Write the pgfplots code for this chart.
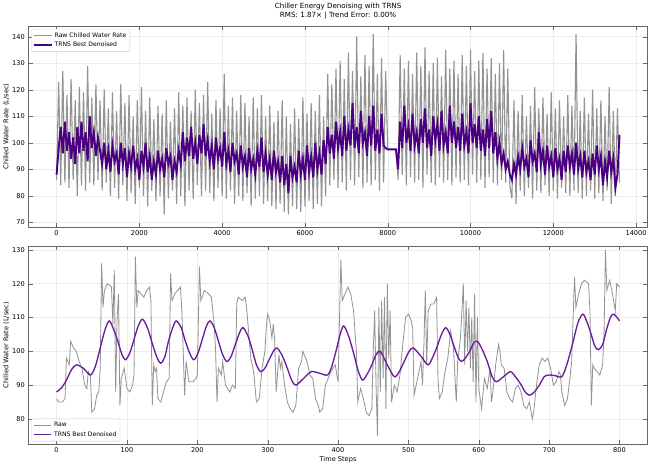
\documentclass[border=0pt]{standalone}
\usepackage{pgfplots}
\pgfplotsset{compat=1.18}
\usepackage{pgfplotstable}
\usepackage{fontspec}
\setmainfont{DejaVu Sans}
\definecolor{indigo}{RGB}{75,0,130}
\definecolor{purp}{RGB}{106,27,154}
\pgfplotstableread{
y
86
123
84
127
85
118
83
124
86
116
80
121
84
119
82
129
85
117
84
122
86
116
82
120
85
113
80
119
83
112
79
122
84
115
78
118
81
110
77
116
83
121
80
112
76
117
82
109
78
114
80
111
73
116
79
108
82
113
77
119
80
114
76
117
82
112
79
120
84
115
80
118
82
123
81
111
78
116
83
113
80
126
79
114
82
117
77
112
80
118
78
115
81
110
76
117
79
113
80
118
77
110
78
114
76
108
75
112
77
116
74
110
73
107
76
113
75
109
74
117
76
111
78
115
75
112
77
118
76
110
80
126
84
122
86
128
83
131
85
124
82
134
86
127
84
140
87
125
83
133
85
129
84
141
86
126
82
132
85
127
97.5
97.5
97.5
97.5
97.5
86
133
88
128
84
131
87
126
85
134
86
129
83
136
88
127
85
130
84
132
87
125
85
135
86
128
84
131
87
126
85
133
86
129
84
135
88
127
85
131
86
134
83
128
87
132
85
126
84
130
86
135
85
128
84
79
116
77
112
82
118
80
110
83
114
79
121
82
113
81
117
84
111
80
119
82
113
79
116
83
110
81
118
80
114
82
141
81
112
79
117
80
111
82
120
79
113
81
116
78
110
82
121
77
112
80
113
85
}\rawtop
\pgfplotstableread{
y
88
98
106
96
108
97
104
94
102
92
106
96
108
97
104
93
110
98
104
95
102
97
92
100
90
97
89
99
93
96
88
100
92
98
87
96
91
99
90
94
86
97
91
100
89
95
86
93
88
97
90
94
87
98
92
95
86
93
89
97
92
104
93
102
95
106
94
100
92
103
96
107
95
101
93
99
90
102
94
98
91
104
92
97
89
100
93
96
88
99
91
95
87
98
90
94
88
97
91
102
89
96
88
94
86
97
89
93
85
95
84
92
81
95
87
91
85
97
88
94
86
99
89
95
87
100
90
96
88
101
92
106
96
103
94
108
98
104
95
110
97
105
99
115
98
106
96
112
100
104
95
110
99
114
97
105
96
111
99
98
97.5
97.5
97.5
97.5
97.5
90
108
98
114
100
106
97
111
99
104
96
109
100
113
98
105
95
110
101
107
97
112
99
104
96
114
100
108
98
106
97
111
99
104
96
115
100
107
98
110
97
105
95
109
98
112
96
104
94
100
92
96
90
93
88
86
92
88
95
90
98
91
94
87
101
93
96
89
104
92
97
88
99
91
95
87
98
90
94
86
97
89
99
91
96
88
100
90
95
87
97
89
93
86
96
88
99
90
95
84
93
87
97
89
94
83
88
103
}\dentop
\pgfplotsset{
  myax/.style={scale only axis, width=608pt,
    grid=major, grid style={gray!15, line width=0.4pt},
    axis line style={gray!80!black},
    tick style={gray!80!black},
    ticklabel style={font=\fontsize{6.5}{7}\selectfont},
    label style={font=\fontsize{6.5}{7}\selectfont},
    /pgf/number format/assume math mode=true,
    /pgf/number format/1000 sep={},
    scaled ticks=false,
    legend cell align=left,
    legend style={at={(0.005,0.985)}, anchor=north west, font=\fontsize{6}{7}\selectfont,
      draw=gray!40, rounded corners=1pt, inner sep=1.5pt, row sep=-1pt},
  }
}
\begin{document}
\begin{tikzpicture}
\begin{axis}[myax, at={(0,213pt)}, height=198pt,
  xmin=-680, xmax=14280, ymin=68.1, ymax=144.1,
  xtick={0,2000,...,14000}, ytick={70,80,...,140},
  ylabel={Chilled Water Rate (L/sec)}, ylabel style={yshift=-4pt},
  title style={font=\fontsize{7}{8.5}\selectfont, align=center, yshift=-3pt},
  title={Chiller Energy Denoising with TRNS\\RMS: 1.87× | Trend Error: 0.00\%}]
\addplot[gray!85, line width=1.1pt] table[x expr=\coordindex*50, y=y] {\rawtop};
\addlegendentry{Raw Chilled Water Rate}
\addplot[indigo, line width=1.9pt] table[x expr=\coordindex*50, y=y] {\dentop};
\addlegendentry{TRNS Best Denoised}
\end{axis}
\begin{axis}[myax, at={(0,0)}, height=195pt,
  xmin=-40, xmax=840, ymin=72.5, ymax=131.2,
  xtick={0,100,...,800}, ytick={80,90,...,130},
  xlabel={Time Steps}, xlabel style={yshift=3pt},
  ylabel={Chilled Water Rate (L/sec)}, ylabel style={yshift=-4pt},
  legend style={at={(0.005,0.015)}, anchor=south west}]
\addplot[gray!85, line width=0.8pt] coordinates {
(0,86)(3,85)(8,85)(12,86)(14,98)(18,96)(20,103)(24,101)(28,100)(32,97)(36,95)(40,90)(43,89)(45,94)(48,93)(50,82)(54,83)(57,87)(60,88)(62,95)(64,126)(66,113)(68,118)(72,120)(78,119)(80,108)(82,124)(84,88)(86,110)(88,117)(90,84)(92,92)(96,95)(100,89)(104,88)(108,90)(110,93)(112,128)(114,113)(116,118)(120,117)(124,116)(128,118)(132,119)(134,115)(136,84)(138,96)(140,94)(142,95)(144,86)(148,85)(152,88)(156,91)(160,92)(162,123)(164,115)(168,117)(172,118)(176,119)(178,112)(182,87)(184,97)(188,91)(194,91)(198,92)(200,93)(203,125)(205,115)(210,118)(216,117)(220,116)(224,108)(226,100)(228,85)(230,95)(234,93)(236,97)(240,90)(246,88)(250,90)(254,89)(256,114)(258,116)(264,115)(268,116)(270,113)(272,108)(276,98)(280,94)(284,85)(288,86)(292,95)(296,100)(298,107)(300,111)(303,109)(306,104)(308,108)(310,103)(312,88)(316,99)(318,95)(320,97)(324,90)(328,85)(332,83)(336,82)(340,84)(344,95)(348,97)(350,100)(352,99)(356,97)(360,93)(364,92)(368,86)(372,84)(374,82)(378,83)(382,90)(386,92)(390,94)(396,96)(400,91)(404,127)(406,115)(410,117)(414,119)(418,117)(422,112)(426,100)(428,85)(432,89)(436,86)(440,82)(444,81)(448,83)(450,100)(452,112)(454,90)(456,75)(458,113)(460,88)(462,115)(464,92)(466,116)(468,83)(470,120)(472,98)(474,112)(476,85)(480,90)(484,88)(488,93)(492,102)(496,110)(500,111)(504,109)(506,107)(508,87)(510,89)(514,93)(518,97)(520,90)(522,102)(524,118)(526,96)(528,112)(532,114)(536,114)(540,116)(542,92)(544,86)(548,88)(552,94)(556,98)(560,106)(564,101)(568,85)(570,97)(574,104)(578,120)(580,96)(582,115)(584,100)(586,113)(588,95)(590,110)(592,91)(594,117)(596,85)(598,110)(600,89)(604,83)(608,92)(612,89)(616,95)(618,85)(620,88)(624,96)(628,102)(630,100)(632,96)(636,95)(640,88)(644,86)(648,85)(652,89)(656,90)(660,88)(664,84)(668,83)(672,85)(676,80)(678,82)(682,90)(686,96)(690,98)(694,97)(698,98)(702,95)(706,90)(710,91)(714,94)(716,93)(718,88)(722,84)(726,86)(730,93)(732,97)(736,122)(738,113)(742,117)(746,120)(750,121)(756,120)(758,112)(760,84)(762,96)(764,95)(768,94)(772,93)(776,96)(778,105)(780,130)(782,118)(786,121)(790,117)(794,112)(796,120)(800,119)};
\addlegendentry{Raw}
\addplot[purp, line width=1.3pt, smooth] coordinates {
(0,88)(7,89.2)(14,91.5)(21,94.5)(28,96)(38,95)(48,93)(55,95.5)(62,101)(69,106.5)(75,109)(81,106.5)(87,103)(93,99)(98,97.5)(104,99.5)(110,103.5)(116,107.5)(122,109.5)(129,107)(135,103)(142,98.5)(148,96.5)(154,98.5)(159,103)(165,107)(170,109)(177,107)(183,103)(189,99.5)(195,97.5)(201,99.5)(207,103.5)(213,107.5)(218,109)(224,107)(230,103)(236,99)(242,97)(248,98.5)(254,102)(260,105.5)(265,107)(272,104.5)(278,100.5)(284,96)(290,94)(296,95)(302,97.5)(308,100)(313,101)(320,99)(327,95.5)(334,91.5)(340,90)(351,92)(362,94)(374,93.5)(385,93)(391,95.5)(397,100)(403,105)(408,107.5)(415,104.5)(422,99.5)(429,94)(435,91.5)(442,93.5)(448,96)(454,99)(460,100)(470,96)(480,92.5)(487,94)(494,97)(501,100)(507,101)(518,98.5)(528,96)(535,98.5)(541,101.5)(547,105)(553,107)(559,105)(564,102)(570,98.5)(575,97)(581,98)(587,100)(593,102.5)(598,103)(605,100.5)(612,97)(619,92.5)(625,91)(635,92.5)(645,94)(652,92.5)(659,90.5)(666,88)(672,87)(679,88)(686,90)(693,92.5)(700,93)(709,92.8)(718,92.5)(725,96)(733,102)(741,108.5)(748,111)(754,108.5)(759,105.5)(765,101.5)(770,100.5)(776,102)(781,106)(787,110)(792,111)(800,109)};
\addlegendentry{TRNS Best Denoised}
\end{axis}
\end{tikzpicture}
\end{document}
